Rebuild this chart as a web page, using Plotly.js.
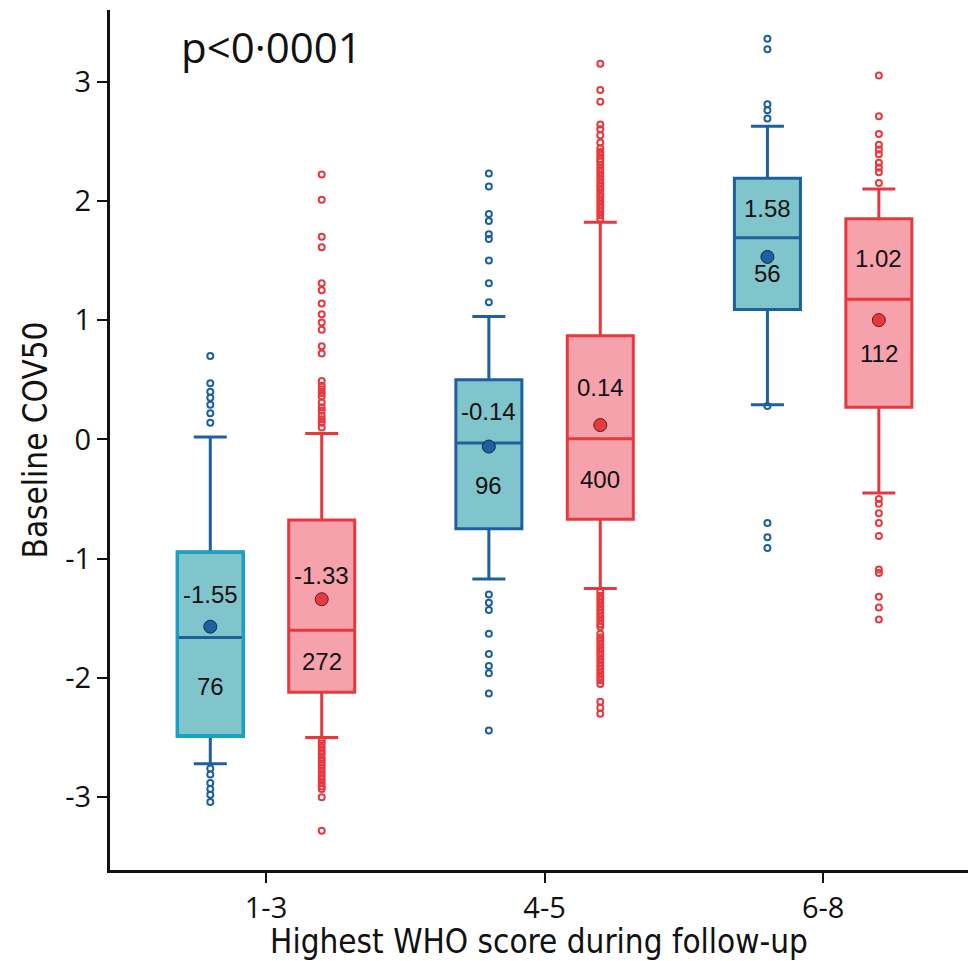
<!DOCTYPE html>
<html>
<head>
<meta charset="utf-8">
<script src="https://cdn.plot.ly/plotly-3.0.1.min.js"></script>
<style>html,body{margin:0;padding:0;background:#fff;}</style>
</head>
<body>
<div id="chart" style="width:970px;height:961px;"></div>
<script>
// ---- data ----
const categories = ['1-3', '4-5', '6-8'];

const blueQ1 = [-2.49, -0.75, 1.09];
const blueMedian = [-1.66, -0.03, 1.69];
const blueQ3 = [-0.945, 0.50, 2.19];
const blueLowerWhisker = [-2.72, -1.17, 0.29];
const blueUpperWhisker = [0.02, 1.03, 2.625];
const blueMean = [-1.57, -0.06, 1.53];
const blueMeanLabel = ['-1.55', '-0.14', '1.58'];
const blueN = [76, 96, 56];
const blueOutliers = [
  [0.70, 0.47, 0.40, 0.35, 0.29, 0.22, 0.14, -2.76, -2.81, -2.88, -2.93, -2.98, -3.04],
  [2.23, 2.12, 1.89, 1.83, 1.72, 1.68, 1.50, 1.31, 1.15, -1.30, -1.37, -1.43, -1.63, -1.80, -1.90, -1.96, -2.13, -2.44],
  [3.36, 3.27, 2.81, 2.76, 2.69, 0.28, -0.70, -0.82, -0.91]
];

const redQ1 = [-2.12, -0.67, 0.27];
const redMedian = [-1.60, 0.005, 1.175];
const redQ3 = [-0.675, 0.87, 1.85];
const redLowerWhisker = [-2.50, -1.25, -0.45];
const redUpperWhisker = [0.05, 1.82, 2.10];
const redMean = [-1.34, 0.12, 1.00];
const redMeanLabel = ['-1.33', '0.14', '1.02'];
const redN = [272, 400, 112];
const redOutliers = [
  [2.22, 2.01, 1.70, 1.61, 1.31, 1.25, 1.14, 1.05, 0.98, 0.92, 0.78, 0.72, 0.49, 0.45, 0.42, 0.39, 0.36, 0.31, 0.27, 0.24, 0.20, 0.17, 0.14, 0.10,
   -2.52, -2.55, -2.58, -2.61, -2.64, -2.67, -2.70, -2.73, -2.76, -2.79, -2.82, -2.85, -2.88, -2.91, -2.93, -3.00, -3.28],
  [3.15, 2.93, 2.83, 2.64, 2.60, 2.55, 2.49, 2.44, 2.41, 2.38, 2.35, 2.33, 2.30, 2.27, 2.24, 2.21, 2.18, 2.15, 2.12, 2.09, 2.06, 2.03, 2.00, 1.97, 1.94, 1.91, 1.88, 1.85,
   -1.28, -1.31, -1.34, -1.37, -1.40, -1.43, -1.46, -1.49, -1.52, -1.55, -1.57, -1.63, -1.66, -1.69, -1.72, -1.75, -1.78, -1.81, -1.84, -1.87, -1.90, -1.93, -1.96, -1.99, -2.02, -2.05, -2.20, -2.25, -2.30],
  [3.05, 2.71, 2.56, 2.47, 2.43, 2.39, 2.32, 2.28, 2.24, 2.15, -0.50, -0.54, -0.62, -0.70, -0.81, -1.09, -1.12, -1.32, -1.41, -1.51]
];

const yTicks = [-3, -2, -1, 0, 1, 2, 3];

// ---- style ----
const OFF = 0.2;
const BOXW = 0.237;
const blueLine = '#1e609f';
const blueEdge1 = '#17a1c6';
const blueFill = '#80c5cb';
const redLine = '#e8383e';
const redFill = '#f5a2ad';

const catPos = categories.map((c, i) => i);
const bx = catPos.map(p => p - OFF);
const rx = catPos.map(p => p + OFF);

const traces = [];

traces.push({
  type: 'box', x: bx, q1: blueQ1, median: blueMedian, q3: blueQ3,
  lowerfence: blueLowerWhisker, upperfence: blueUpperWhisker,
  width: BOXW, whiskerwidth: 0.5, boxpoints: false,
  fillcolor: blueFill, line: {color: blueLine, width: 3}, showlegend: false
});
// cyan frame for the first blue box
traces.push({
  type: 'box', x: [bx[0]], q1: [blueQ1[0]], median: [blueQ1[0]], q3: [blueQ3[0]],
  lowerfence: [blueQ1[0]], upperfence: [blueQ3[0]],
  width: BOXW, whiskerwidth: 0, boxpoints: false,
  fillcolor: 'rgba(0,0,0,0)', line: {color: blueEdge1, width: 3}, showlegend: false
});
traces.push({
  type: 'box', x: rx, q1: redQ1, median: redMedian, q3: redQ3,
  lowerfence: redLowerWhisker, upperfence: redUpperWhisker,
  width: BOXW, whiskerwidth: 0.5, boxpoints: false,
  fillcolor: redFill, line: {color: redLine, width: 3}, showlegend: false
});

function outlierTrace(xs, outs, color) {
  const x = [], y = [];
  outs.forEach((arr, i) => arr.forEach(v => { x.push(xs[i]); y.push(v); }));
  return {
    type: 'scatter', mode: 'markers', x: x, y: y, showlegend: false,
    marker: {symbol: 'circle-open', size: 6, color: color, line: {width: 2, color: color}}
  };
}
traces.push(outlierTrace(bx, blueOutliers, blueLine));
traces.push(outlierTrace(rx, redOutliers, redLine));

traces.push({
  type: 'scatter', mode: 'markers', x: bx, y: blueMean, showlegend: false,
  marker: {size: 13, color: '#1f5f9e', line: {width: 1, color: '#0c2d4d'}}
});
traces.push({
  type: 'scatter', mode: 'markers', x: rx, y: redMean, showlegend: false,
  marker: {size: 13, color: '#e53b40', line: {width: 1, color: '#6b1515'}}
});

const annotations = [];
const labFont = {family: 'Liberation Sans, Arial, sans-serif', size: 24, color: '#111'};
categories.forEach((c, i) => {
  annotations.push({x: bx[i], y: (blueQ3[i] + blueMedian[i]) / 2, text: blueMeanLabel[i], showarrow: false, font: labFont});
  annotations.push({x: bx[i], y: (blueMedian[i] + blueQ1[i]) / 2, text: String(blueN[i]), showarrow: false, font: labFont});
  annotations.push({x: rx[i], y: (redQ3[i] + redMedian[i]) / 2, text: redMeanLabel[i], showarrow: false, font: labFont});
  annotations.push({x: rx[i], y: (redMedian[i] + redQ1[i]) / 2, text: String(redN[i]), showarrow: false, font: labFont});
});
annotations.push({
  xref: 'paper', yref: 'paper', x: 0.188, y: 0.957, xanchor: 'center', yanchor: 'middle',
  text: 'p<0·0001', showarrow: false,
  font: {family: 'Open Sans, sans-serif', size: 42, color: '#111'}
});

const tickFont = {family: 'Open Sans, sans-serif', size: 29, color: '#111'};
const titleFont = {family: 'Liberation Sans Narrow, DejaVu Sans Condensed, sans-serif', size: 33, color: '#111'};

const layout = {
  width: 970, height: 961,
  margin: {l: 110, r: 2, t: 10, b: 91},
  paper_bgcolor: '#fff', plot_bgcolor: '#fff',
  boxmode: 'overlay',
  showlegend: false,
  xaxis: {
    range: [-0.56, 2.52], tickvals: catPos, ticktext: categories,
    showline: true, linewidth: 3, linecolor: '#111', ticks: 'outside', ticklen: 10, tickwidth: 2, tickcolor: '#111',
    showgrid: false, zeroline: false, tickfont: tickFont,
    title: {text: 'Highest WHO score during follow-up', font: titleFont, standoff: 4}
  },
  yaxis: {
    range: [-3.61, 3.6], tickvals: yTicks, ticktext: yTicks.map(String),
    showline: true, linewidth: 3, linecolor: '#111', ticks: 'outside', ticklen: 10, tickwidth: 2, tickcolor: '#111',
    showgrid: false, zeroline: false, tickfont: tickFont,
    title: {text: 'Baseline COV50', font: titleFont, standoff: 8}
  },
  annotations: annotations
};

Plotly.newPlot('chart', traces, layout, {displayModeBar: false, staticPlot: true});
</script>
</body>
</html>
